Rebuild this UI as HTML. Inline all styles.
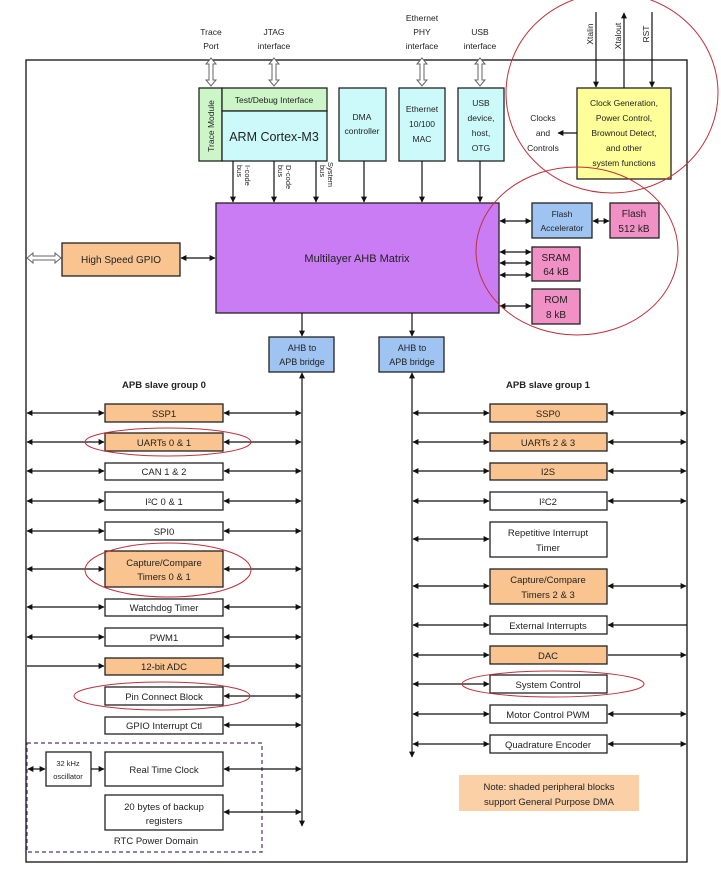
<!DOCTYPE html>
<html><head><meta charset="utf-8"><style>
html,body{margin:0;padding:0;background:#fff}
svg{display:block}
text{font-family:"Liberation Sans",sans-serif;fill:#222}
.b{stroke:#222;stroke-width:1.3}
.l{stroke:#111;stroke-width:1.2;fill:none}
.r{fill:none;stroke:#c0303a;stroke-width:1}
</style></head><body>
<svg width="721" height="884" viewBox="0 0 721 884" xmlns="http://www.w3.org/2000/svg">
<defs>
<marker id="a" viewBox="0 0 10 10" refX="9" refY="5" markerWidth="5" markerHeight="5" orient="auto-start-reverse"><path d="M0,0L10,5L0,10z" fill="#111"/></marker>
</defs>
<!-- frame -->
<rect x="26" y="60" width="661" height="802" fill="none" stroke="#111" stroke-width="1.3"/>

<!-- top labels -->
<g font-size="8.5" text-anchor="middle">
<text x="211" y="35">Trace</text><text x="211" y="49">Port</text>
<text x="274" y="35">JTAG</text><text x="274" y="49">interface</text>
<text x="422" y="21">Ethernet</text><text x="422" y="35">PHY</text><text x="422" y="49">interface</text>
<text x="480" y="35">USB</text><text x="480" y="49">interface</text>
</g>
<!-- hollow double arrows -->
<g fill="#fff" stroke="#666" stroke-width="1">
<path d="M211,58l-5,6h3v16h-3l5,6l5,-6h-3v-16h3z"/>
<path d="M274,58l-5,6h3v16h-3l5,6l5,-6h-3v-16h3z"/>
<path d="M422,58l-5,6h3v16h-3l5,6l5,-6h-3v-16h3z"/>
<path d="M480,58l-5,6h3v16h-3l5,6l5,-6h-3v-16h3z"/>
<path d="M27,258l6,-5v3h22v-3l6,5l-6,5v-3h-22v3z"/>
</g>

<!-- top boxes -->
<rect x="199" y="88" width="23" height="73" fill="#ccf5c8" class="b"/>
<text transform="translate(214,126) rotate(-90)" font-size="8.5" text-anchor="middle">Trace Module</text>
<rect x="222" y="88" width="105" height="23" fill="#ccf5c8" class="b"/>
<text x="274" y="103" font-size="8.5" text-anchor="middle">Test/Debug Interface</text>
<rect x="222" y="111" width="105" height="50" fill="#ccfafa" class="b"/>
<text x="274" y="141" font-size="12.5" text-anchor="middle">ARM Cortex-M3</text>
<rect x="339" y="88" width="47" height="73" fill="#ccfafa" class="b"/>
<text x="362" y="120" font-size="8.5" text-anchor="middle">DMA</text><text x="362" y="134" font-size="8.5" text-anchor="middle">controller</text>
<rect x="399" y="88" width="46" height="73" fill="#ccfafa" class="b"/>
<g font-size="8.5" text-anchor="middle"><text x="422" y="112">Ethernet</text><text x="422" y="127">10/100</text><text x="422" y="142">MAC</text></g>
<rect x="458" y="88" width="46" height="73" fill="#ccfafa" class="b"/>
<g font-size="8.5" text-anchor="middle"><text x="481" y="106">USB</text><text x="481" y="121">device,</text><text x="481" y="136">host,</text><text x="481" y="151">OTG</text></g>

<rect x="577" y="88" width="94" height="91" fill="#ffff99" class="b"/>
<g font-size="8.5" text-anchor="middle"><text x="624" y="106">Clock Generation,</text><text x="624" y="121">Power Control,</text><text x="624" y="136">Brownout Detect,</text><text x="624" y="151">and other</text><text x="624" y="166">system functions</text></g>
<line x1="596" y1="12" x2="596" y2="87" class="l" marker-end="url(#a)"/>
<line x1="624" y1="88" x2="624" y2="13" class="l" marker-end="url(#a)"/>
<line x1="652" y1="12" x2="652" y2="87" class="l" marker-end="url(#a)"/>
<g font-size="8.5" text-anchor="middle">
<text transform="translate(593,34) rotate(-90)">Xtalin</text>
<text transform="translate(621,36) rotate(-90)">Xtalout</text>
<text transform="translate(649,34) rotate(-90)">RST</text>
<text x="543" y="121">Clocks</text><text x="543" y="136">and</text><text x="543" y="151">Controls</text>
</g>
<line x1="577" y1="133" x2="558" y2="133" class="l" marker-end="url(#a)"/>

<!-- bus arrows to matrix -->
<g class="l">
<line x1="233" y1="161" x2="233" y2="202" marker-end="url(#a)"/>
<line x1="274" y1="161" x2="274" y2="202" marker-end="url(#a)"/>
<line x1="316" y1="161" x2="316" y2="202" marker-end="url(#a)"/>
<line x1="364" y1="161" x2="364" y2="202" marker-end="url(#a)"/>
<line x1="422" y1="161" x2="422" y2="202" marker-end="url(#a)"/>
<line x1="480" y1="161" x2="480" y2="202" marker-end="url(#a)"/>
</g>
<g font-size="7.5" text-anchor="start">
<text transform="translate(245,165) rotate(90)">I-code</text><text transform="translate(237,165) rotate(90)">bus</text>
<text transform="translate(286,165) rotate(90)">D-code</text><text transform="translate(278,165) rotate(90)">bus</text>
<text transform="translate(328,162) rotate(90)">System</text><text transform="translate(320,165) rotate(90)">bus</text>
</g>

<rect x="216" y="203" width="283" height="110" fill="#c97cf4" class="b"/>
<text x="357" y="262" font-size="11" text-anchor="middle">Multilayer AHB Matrix</text>

<rect x="62" y="243" width="118" height="33" fill="#f9c490" class="b"/>
<text x="121" y="263" font-size="10" text-anchor="middle">High Speed GPIO</text>
<line x1="181" y1="258" x2="215" y2="258" class="l" marker-start="url(#a)" marker-end="url(#a)"/>

<rect x="532" y="203" width="60" height="35" fill="#9fc4f2" class="b"/>
<text x="562" y="217" font-size="8.5" text-anchor="middle">Flash</text><text x="562" y="231" font-size="8.5" text-anchor="middle">Accelerator</text>
<rect x="610" y="203" width="49" height="35" fill="#f090c4" class="b"/>
<text x="634" y="217" font-size="10" text-anchor="middle">Flash</text><text x="634" y="232" font-size="10" text-anchor="middle">512 kB</text>
<rect x="532" y="247" width="48" height="34" fill="#f090c4" class="b"/>
<text x="556" y="261" font-size="10" text-anchor="middle">SRAM</text><text x="556" y="275" font-size="10" text-anchor="middle">64 kB</text>
<rect x="532" y="289" width="48" height="35" fill="#f090c4" class="b"/>
<text x="556" y="303" font-size="10" text-anchor="middle">ROM</text><text x="556" y="318" font-size="10" text-anchor="middle">8 kB</text>
<g class="l">
<line x1="500" y1="221" x2="531" y2="221" marker-start="url(#a)" marker-end="url(#a)"/>
<line x1="593" y1="221" x2="609" y2="221" marker-start="url(#a)" marker-end="url(#a)"/>
<line x1="500" y1="252" x2="531" y2="252" marker-start="url(#a)" marker-end="url(#a)"/>
<line x1="500" y1="263" x2="531" y2="263" marker-start="url(#a)" marker-end="url(#a)"/>
<line x1="500" y1="275" x2="531" y2="275" marker-start="url(#a)" marker-end="url(#a)"/>
<line x1="500" y1="306" x2="531" y2="306" marker-start="url(#a)" marker-end="url(#a)"/>
<line x1="302" y1="313" x2="302" y2="336" marker-end="url(#a)"/>
<line x1="412" y1="313" x2="412" y2="336" marker-end="url(#a)"/>
</g>
<rect x="269" y="337" width="65" height="35" fill="#9fc4f2" class="b"/>
<text x="302" y="351" font-size="9" text-anchor="middle">AHB to</text><text x="302" y="365" font-size="9" text-anchor="middle">APB bridge</text>
<rect x="379" y="337" width="65" height="35" fill="#9fc4f2" class="b"/>
<text x="412" y="351" font-size="9" text-anchor="middle">AHB to</text><text x="412" y="365" font-size="9" text-anchor="middle">APB bridge</text>

<!-- buses -->
<line x1="302" y1="373" x2="302" y2="826" class="l" marker-start="url(#a)" marker-end="url(#a)"/>
<line x1="412" y1="373" x2="412" y2="757" class="l" marker-start="url(#a)" marker-end="url(#a)"/>
<text x="164" y="388" font-size="9.5" font-weight="bold" text-anchor="middle">APB slave group 0</text>
<text x="548" y="388" font-size="9.5" font-weight="bold" text-anchor="middle">APB slave group 1</text>

<!-- left group -->
<g font-size="9.5" text-anchor="middle">
<rect x="105" y="404" width="118" height="18" fill="#f9c490" class="b"/><text x="164" y="417">SSP1</text>
<rect x="105" y="433" width="118" height="18" fill="#f9c490" class="b"/><text x="164" y="446">UARTs 0 &amp; 1</text>
<rect x="105" y="463" width="118" height="17" fill="#fff" class="b"/><text x="164" y="475">CAN 1 &amp; 2</text>
<rect x="105" y="492" width="118" height="18" fill="#fff" class="b"/><text x="164" y="505">I²C 0 &amp; 1</text>
<rect x="105" y="522" width="118" height="18" fill="#fff" class="b"/><text x="164" y="535">SPI0</text>
<rect x="105" y="551" width="118" height="36" fill="#f9c490" class="b"/><text x="164" y="566">Capture/Compare</text><text x="164" y="580">Timers 0 &amp; 1</text>
<rect x="105" y="599" width="118" height="17" fill="#fff" class="b"/><text x="164" y="611">Watchdog Timer</text>
<rect x="105" y="628" width="118" height="18" fill="#fff" class="b"/><text x="164" y="641">PWM1</text>
<rect x="105" y="658" width="118" height="17" fill="#f9c490" class="b"/><text x="164" y="670">12-bit ADC</text>
<rect x="105" y="687" width="118" height="18" fill="#fff" class="b"/><text x="164" y="700">Pin Connect Block</text>
<rect x="105" y="717" width="118" height="17" fill="#fff" class="b"/><text x="164" y="729">GPIO Interrupt Ctl</text>
<rect x="105" y="752" width="118" height="34" fill="#fff" class="b"/><text x="164" y="773">Real Time Clock</text>
<rect x="105" y="795" width="118" height="35" fill="#fff" class="b"/><text x="164" y="810">20 bytes of backup</text><text x="164" y="824">registers</text>
<text x="156" y="844">RTC Power Domain</text>
</g>
<rect x="46" y="752" width="45" height="34" fill="#fff" class="b"/>
<text x="68" y="766" font-size="7.5" text-anchor="middle">32 kHz</text><text x="68" y="779" font-size="7.5" text-anchor="middle">oscillator</text>
<rect x="27" y="743" width="235" height="109" fill="none" stroke="#553377" stroke-width="1.2" stroke-dasharray="4,3"/>
<g class="l">
<line x1="27" y1="413" x2="104" y2="413" marker-start="url(#a)" marker-end="url(#a)"/><line x1="224" y1="413" x2="301" y2="413" marker-start="url(#a)" marker-end="url(#a)"/>
<line x1="27" y1="442" x2="104" y2="442" marker-start="url(#a)" marker-end="url(#a)"/><line x1="224" y1="442" x2="301" y2="442" marker-start="url(#a)" marker-end="url(#a)"/>
<line x1="27" y1="471" x2="104" y2="471" marker-start="url(#a)" marker-end="url(#a)"/><line x1="224" y1="471" x2="301" y2="471" marker-start="url(#a)" marker-end="url(#a)"/>
<line x1="27" y1="501" x2="104" y2="501" marker-start="url(#a)" marker-end="url(#a)"/><line x1="224" y1="501" x2="301" y2="501" marker-start="url(#a)" marker-end="url(#a)"/>
<line x1="27" y1="531" x2="104" y2="531" marker-start="url(#a)" marker-end="url(#a)"/><line x1="224" y1="531" x2="301" y2="531" marker-start="url(#a)" marker-end="url(#a)"/>
<line x1="27" y1="569" x2="104" y2="569" marker-start="url(#a)" marker-end="url(#a)"/><line x1="224" y1="569" x2="301" y2="569" marker-start="url(#a)" marker-end="url(#a)"/>
<line x1="27" y1="607" x2="104" y2="607" marker-start="url(#a)" marker-end="url(#a)"/><line x1="224" y1="607" x2="301" y2="607" marker-start="url(#a)" marker-end="url(#a)"/>
<line x1="27" y1="637" x2="104" y2="637" marker-start="url(#a)" marker-end="url(#a)"/><line x1="224" y1="637" x2="301" y2="637" marker-start="url(#a)" marker-end="url(#a)"/>
<line x1="27" y1="666" x2="104" y2="666" marker-end="url(#a)"/><line x1="224" y1="666" x2="301" y2="666" marker-start="url(#a)" marker-end="url(#a)"/>
<line x1="224" y1="696" x2="301" y2="696" marker-start="url(#a)" marker-end="url(#a)"/>
<line x1="224" y1="725" x2="301" y2="725" marker-start="url(#a)" marker-end="url(#a)"/>
<line x1="28" y1="769" x2="45" y2="769" marker-start="url(#a)" marker-end="url(#a)"/>
<line x1="91" y1="769" x2="104" y2="769" marker-end="url(#a)"/>
<line x1="224" y1="769" x2="301" y2="769" marker-start="url(#a)" marker-end="url(#a)"/>
<line x1="224" y1="812" x2="301" y2="812" marker-start="url(#a)" marker-end="url(#a)"/>
</g>

<!-- right group -->
<g font-size="9.5" text-anchor="middle">
<rect x="490" y="404" width="117" height="18" fill="#f9c490" class="b"/><text x="548" y="417">SSP0</text>
<rect x="490" y="433" width="117" height="18" fill="#f9c490" class="b"/><text x="548" y="446">UARTs 2 &amp; 3</text>
<rect x="490" y="463" width="117" height="17" fill="#f9c490" class="b"/><text x="548" y="475">I2S</text>
<rect x="490" y="492" width="117" height="18" fill="#fff" class="b"/><text x="548" y="505">I²C2</text>
<rect x="490" y="522" width="117" height="35" fill="#fff" class="b"/><text x="548" y="536">Repetitive Interrupt</text><text x="548" y="551">Timer</text>
<rect x="490" y="569" width="117" height="35" fill="#f9c490" class="b"/><text x="548" y="583">Capture/Compare</text><text x="548" y="598">Timers 2 &amp; 3</text>
<rect x="490" y="616" width="117" height="18" fill="#fff" class="b"/><text x="548" y="629">External Interrupts</text>
<rect x="490" y="646" width="117" height="18" fill="#f9c490" class="b"/><text x="548" y="659">DAC</text>
<rect x="490" y="675" width="117" height="18" fill="#fff" class="b"/><text x="548" y="688">System Control</text>
<rect x="490" y="705" width="117" height="18" fill="#fff" class="b"/><text x="548" y="718">Motor Control PWM</text>
<rect x="490" y="735" width="117" height="18" fill="#fff" class="b"/><text x="548" y="748">Quadrature Encoder</text>
</g>
<g class="l">
<line x1="413" y1="413" x2="489" y2="413" marker-start="url(#a)" marker-end="url(#a)"/><line x1="608" y1="413" x2="686" y2="413" marker-start="url(#a)" marker-end="url(#a)"/>
<line x1="413" y1="442" x2="489" y2="442" marker-start="url(#a)" marker-end="url(#a)"/><line x1="608" y1="442" x2="686" y2="442" marker-start="url(#a)" marker-end="url(#a)"/>
<line x1="413" y1="471" x2="489" y2="471" marker-start="url(#a)" marker-end="url(#a)"/><line x1="608" y1="471" x2="686" y2="471" marker-start="url(#a)" marker-end="url(#a)"/>
<line x1="413" y1="501" x2="489" y2="501" marker-start="url(#a)" marker-end="url(#a)"/><line x1="608" y1="501" x2="686" y2="501" marker-start="url(#a)" marker-end="url(#a)"/>
<line x1="413" y1="539" x2="489" y2="539" marker-start="url(#a)" marker-end="url(#a)"/>
<line x1="413" y1="586" x2="489" y2="586" marker-start="url(#a)" marker-end="url(#a)"/><line x1="608" y1="586" x2="686" y2="586" marker-start="url(#a)" marker-end="url(#a)"/>
<line x1="413" y1="625" x2="489" y2="625" marker-start="url(#a)" marker-end="url(#a)"/><line x1="687" y1="625" x2="608" y2="625" marker-end="url(#a)"/>
<line x1="413" y1="655" x2="489" y2="655" marker-start="url(#a)" marker-end="url(#a)"/><line x1="608" y1="655" x2="686" y2="655" marker-end="url(#a)"/>
<line x1="413" y1="684" x2="489" y2="684" marker-start="url(#a)" marker-end="url(#a)"/>
<line x1="413" y1="714" x2="489" y2="714" marker-start="url(#a)" marker-end="url(#a)"/><line x1="608" y1="714" x2="686" y2="714" marker-start="url(#a)" marker-end="url(#a)"/>
<line x1="413" y1="744" x2="489" y2="744" marker-start="url(#a)" marker-end="url(#a)"/><line x1="608" y1="744" x2="686" y2="744" marker-start="url(#a)" marker-end="url(#a)"/>
</g>

<rect x="459" y="775" width="180" height="36" fill="#fbd0a6"/>
<text x="549" y="790" font-size="9.5" text-anchor="middle">Note: shaded peripheral blocks</text>
<text x="549" y="805" font-size="9.5" text-anchor="middle">support General Purpose DMA</text>

<!-- red ellipses -->
<ellipse cx="612" cy="93" rx="106" ry="100" class="r"/>
<ellipse cx="577" cy="251" rx="101" ry="84" class="r"/>
<ellipse cx="168" cy="442" rx="83" ry="14" class="r"/>
<ellipse cx="168" cy="570" rx="83" ry="27" class="r"/>
<ellipse cx="162" cy="696" rx="88" ry="14" class="r"/>
<ellipse cx="553" cy="684" rx="91" ry="13" class="r"/>
</svg>
</body></html>
